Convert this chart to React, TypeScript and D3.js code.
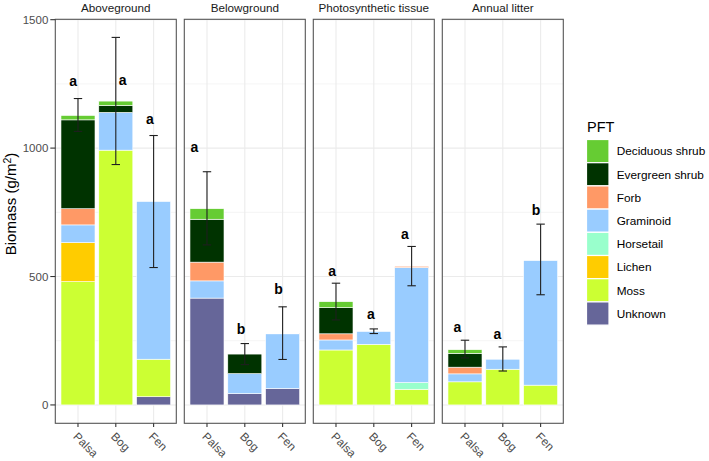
import React from "react";
import * as d3 from "d3";

const facets = ["Aboveground", "Belowground", "Photosynthetic tissue", "Annual litter"];
const sites = ["Palsa", "Bog", "Fen"];
const pfts = ["Deciduous shrub", "Evergreen shrub", "Forb", "Graminoid", "Horsetail", "Lichen", "Moss", "Unknown"];
const pftColors = ["#66CC33", "#003300", "#FF9966", "#99CCFF", "#99FFCC", "#FFCC00", "#CCFF33", "#666699"];

// segment values, order: facet-major (Aboveground Palsa, Bog, Fen, Belowground Palsa, ...)
const deciduous = [17, 17, 0, 41, 0, 0, 23, 0, 0, 14, 0, 0];
const evergreen = [346, 27, 0, 167, 76, 0, 102, 0, 0, 54, 0, 0];
const forb = [63, 0, 0, 73, 0, 2, 24, 0, 5, 26, 0, 0];
const graminoid = [69, 147, 614, 67, 78, 213, 39, 50, 448, 31, 39, 485];
const horsetail = [0, 0, 0, 0, 0, 0, 0, 0, 26, 0, 0, 0];
const lichen = [152, 0, 0, 0, 0, 0, 0, 0, 0, 0, 0, 0];
const moss = [480, 992, 146, 0, 0, 0, 214, 236, 61, 90, 139, 77];
const unknown = [0, 0, 32, 416, 44, 64, 0, 0, 0, 0, 0, 0];
const pftValues = [deciduous, evergreen, forb, graminoid, horsetail, lichen, moss, unknown];

const errLower = [1065, 936, 535, 623, 157, 177, 331, 278, 464, 183, 132, 429];
const errUpper = [1193, 1431, 1049, 908, 239, 382, 474, 296, 617, 252, 226, 704];
const letters = ["a", "a", "a", "a", "b", "b", "a", "a", "a", "a", "a", "b"];
const letterY = [1262, 1266, 1114, 1002, 295, 452, 522, 355, 666, 303, 274, 760];
// horizontal nudge of the letters, in category units
const letterNudge = [-0.13, 0.18, -0.1, -0.33, -0.1, -0.11, -0.1, -0.08, -0.18, -0.2, -0.14, -0.12];

const yTicks = [0, 500, 1000, 1500];
const yMinor = [250, 750, 1250];

const FONT = "'Liberation Sans', Arial, Helvetica, sans-serif";

export default function App() {
  const W = 709, H = 461;
  const panelTop = 19.3, panelBottom = 423.3;
  const panelLefts = [55.3, 184.3, 313.3, 442.3];
  const panelW = 121;
  const y = d3.scaleLinear().domain([-71.5, 1501.5]).range([panelBottom, panelTop]);
  const stackOrder = [7, 6, 5, 4, 3, 2, 1, 0]; // bottom to top

  return (
    <svg width={W} height={H} style={{ position: "absolute", left: 0, top: 0, background: "#fff" }} fontFamily={FONT}>
      <rect x={0} y={0} width={W} height={H} fill="#fff" />
      {facets.map((f, fi) => {
        const left = panelLefts[fi];
        const x = d3.scalePoint<string>().domain(sites).range([left, left + panelW]).padding(0.6);
        const step = x.step();
        const bw = step * 0.9;
        return (
          <g key={f}>
            <text x={left + panelW / 2} y={12.3} textAnchor="middle" fontSize={11.7} fill="#1a1a1a">{f}</text>
            {yMinor.map((t) => (
              <line key={"m" + t} x1={left} x2={left + panelW} y1={y(t)} y2={y(t)} stroke="#ebebeb" strokeWidth={0.55} />
            ))}
            {yTicks.map((t) => (
              <line key={"M" + t} x1={left} x2={left + panelW} y1={y(t)} y2={y(t)} stroke="#ebebeb" strokeWidth={1.1} />
            ))}
            {sites.map((s) => (
              <line key={"v" + s} x1={x(s)} x2={x(s)} y1={panelTop} y2={panelBottom} stroke="#ebebeb" strokeWidth={1.1} />
            ))}
            {sites.map((s, si) => {
              const idx = fi * 3 + si;
              let cum = 0;
              const cx = x(s) as number;
              return (
                <g key={s}>
                  {stackOrder.map((pi) => {
                    const v = pftValues[pi][idx];
                    if (!v) return null;
                    const y0 = cum, y1 = cum + v;
                    cum = y1;
                    return (
                      <rect key={pi} x={cx - bw / 2} width={bw} y={y(y1)} height={y(y0) - y(y1)}
                        fill={pftColors[pi]} stroke="#fff" strokeWidth={0.6} />
                    );
                  })}
                </g>
              );
            })}
            {sites.map((s, si) => {
              const idx = fi * 3 + si;
              const cx = x(s) as number;
              const cw = 4.2;
              return (
                <g key={"e" + s} stroke="#1f1f1f" strokeWidth={1.1}>
                  <line x1={cx} x2={cx} y1={y(errLower[idx])} y2={y(errUpper[idx])} />
                  <line x1={cx - cw} x2={cx + cw} y1={y(errLower[idx])} y2={y(errLower[idx])} />
                  <line x1={cx - cw} x2={cx + cw} y1={y(errUpper[idx])} y2={y(errUpper[idx])} />
                </g>
              );
            })}
            {sites.map((s, si) => {
              const idx = fi * 3 + si;
              const cx = (x(s) as number) + letterNudge[idx] * step;
              return (
                <text key={"l" + s} x={cx} y={y(letterY[idx])} dy="0.35em" textAnchor="middle"
                  fontSize={14} fontWeight="bold" fill="#000">{letters[idx]}</text>
              );
            })}
            <rect x={left} y={panelTop} width={panelW} height={panelBottom - panelTop} fill="none" stroke="#555" strokeWidth={1.1} />
            {sites.map((s) => {
              const cx = x(s) as number;
              return (
                <g key={"t" + s}>
                  <line x1={cx} x2={cx} y1={panelBottom} y2={panelBottom + 3.7} stroke="#333" strokeWidth={1.1} />
                  <text transform={`translate(${cx - 5.5},${panelBottom + 14}) rotate(45)`} fontSize={11.7} fill="#4d4d4d">{s}</text>
                </g>
              );
            })}
          </g>
        );
      })}
      {yTicks.map((t) => (
        <g key={"yt" + t}>
          <line x1={panelLefts[0] - 5} x2={panelLefts[0]} y1={y(t)} y2={y(t)} stroke="#333" strokeWidth={1.1} />
          <text x={panelLefts[0] - 7} y={y(t)} dy="0.35em" textAnchor="end" fontSize={11.5} fill="#4d4d4d">{t}</text>
        </g>
      ))}
      <text transform={`translate(16,204) rotate(-90)`} textAnchor="middle" fontSize={15} fill="#000">
        Biomass (g/m<tspan dy="-5" fontSize={10.5}>2</tspan><tspan dy="5">)</tspan>
      </text>
      <text x={587} y={131.5} fontSize={14.5} fill="#000">PFT</text>
      {pfts.map((p, i) => (
        <g key={p}>
          <rect x={586.5} y={139.5 + i * 23.2} width={22.5} height={23.2} fill={pftColors[i]} stroke="#fff" strokeWidth={1.2} />
          <text x={616.7} y={139.5 + i * 23.2 + 11.8} dy="0.35em" fontSize={11.8} fill="#000">{p}</text>
        </g>
      ))}
    </svg>
  );
}
